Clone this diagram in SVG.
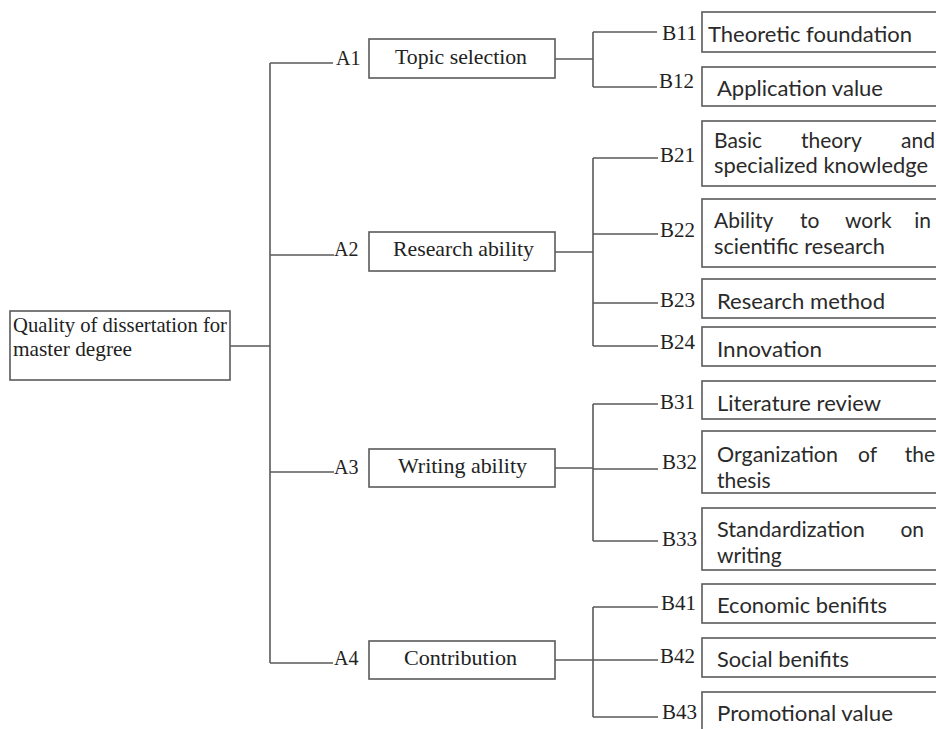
<svg xmlns="http://www.w3.org/2000/svg" width="936" height="729" viewBox="0 0 936 729">
<style>
.box{fill:#fff;stroke:#5a5a5a;stroke-width:1.6}
.ln{fill:none;stroke:#5a5a5a;stroke-width:1.6}
.s{font-family:"Liberation Serif","Times New Roman",serif;fill:#222}
.a{font-size:21px}
.lb{font-size:20px}
.c{font-family:Lato,"Open Sans","Liberation Sans",sans-serif;font-size:21px;fill:#2a2a2a}
.e{text-anchor:end}
</style>
<rect width="936" height="729" fill="#fff"/>
<g id="connectors">
<path class="ln" d="M230,346H270M270,63V663M270,63H333M270,255H334M270,472H334M270,663H333"/>
<path class="ln" d="M555,59H593M593,32V87M593,32H657M593,87H657"/>
<path class="ln" d="M555,252H593M593,158V346M593,158H658M593,234H658M593,303H658M593,346H658"/>
<path class="ln" d="M555,468H593M593,404V541M593,404H658M593,469H658M593,541H658"/>
<path class="ln" d="M555,660H593M593,607V717M593,607H658M593,660H658M593,717H658"/>
</g>
<g id="root">
<rect class="box" x="10" y="311" width="220" height="69"/>
<text class="s" x="13" y="332" font-size="21" textLength="214" lengthAdjust="spacingAndGlyphs">Quality of dissertation for</text>
<text class="s" x="13" y="356" font-size="21" textLength="119" lengthAdjust="spacingAndGlyphs">master degree</text>
</g>
<g id="A1">
<text class="s lb" x="336" y="65">A1</text>
<rect class="box" x="369" y="39" width="186" height="39"/>
<text class="s a" x="395" y="64" textLength="132" lengthAdjust="spacingAndGlyphs">Topic selection</text>
</g>
<g id="A2">
<text class="s lb" x="334" y="256">A2</text>
<rect class="box" x="369" y="232" width="186" height="39"/>
<text class="s a" x="393" y="256" textLength="141" lengthAdjust="spacingAndGlyphs">Research ability</text>
</g>
<g id="A3">
<text class="s lb" x="334" y="474">A3</text>
<rect class="box" x="369" y="449" width="186" height="38"/>
<text class="s a" x="398" y="473" textLength="129" lengthAdjust="spacingAndGlyphs">Writing ability</text>
</g>
<g id="A4">
<text class="s lb" x="334" y="665">A4</text>
<rect class="box" x="369" y="641" width="186" height="38"/>
<text class="s a" x="404" y="665" textLength="113" lengthAdjust="spacingAndGlyphs">Contribution</text>
</g>
<g id="B11">
<text class="s lb" x="662" y="40" textLength="35" lengthAdjust="spacingAndGlyphs">B11</text>
<rect class="box" x="702" y="12" width="240" height="40"/>
<text class="c" x="708" y="42" textLength="204" lengthAdjust="spacingAndGlyphs">Theoretic foundation</text>
</g>
<g id="B12">
<text class="s lb" x="659" y="88" textLength="35" lengthAdjust="spacingAndGlyphs">B12</text>
<rect class="box" x="702" y="67" width="240" height="39"/>
<text class="c" x="717" y="96" textLength="166" lengthAdjust="spacingAndGlyphs">Application value</text>
</g>
<g id="B21">
<text class="s lb" x="660" y="162" textLength="35" lengthAdjust="spacingAndGlyphs">B21</text>
<rect class="box" x="702" y="121" width="240" height="65"/>
<text class="c" x="714" y="148">Basic</text>
<text class="c" x="801" y="148">theory</text>
<text class="c e" x="935" y="148">and</text>
<text class="c" x="714" y="173" textLength="214" lengthAdjust="spacingAndGlyphs">specialized knowledge</text>
</g>
<g id="B22">
<text class="s lb" x="660" y="237" textLength="35" lengthAdjust="spacingAndGlyphs">B22</text>
<rect class="box" x="702" y="199" width="240" height="68"/>
<text class="c" x="714" y="228">Ability</text>
<text class="c" x="800" y="228">to</text>
<text class="c" x="845" y="228">work</text>
<text class="c e" x="931" y="228">in</text>
<text class="c" x="714" y="254" textLength="171" lengthAdjust="spacingAndGlyphs">scientific research</text>
</g>
<g id="B23">
<text class="s lb" x="660" y="307" textLength="35" lengthAdjust="spacingAndGlyphs">B23</text>
<rect class="box" x="702" y="279" width="240" height="39"/>
<text class="c" x="717" y="309" textLength="168" lengthAdjust="spacingAndGlyphs">Research method</text>
</g>
<g id="B24">
<text class="s lb" x="660" y="349" textLength="35" lengthAdjust="spacingAndGlyphs">B24</text>
<rect class="box" x="702" y="327" width="240" height="39"/>
<text class="c" x="717" y="357" textLength="105" lengthAdjust="spacingAndGlyphs">Innovation</text>
</g>
<g id="B31">
<text class="s lb" x="660" y="409" textLength="35" lengthAdjust="spacingAndGlyphs">B31</text>
<rect class="box" x="702" y="381" width="240" height="38"/>
<text class="c" x="717" y="411" textLength="164" lengthAdjust="spacingAndGlyphs">Literature review</text>
</g>
<g id="B32">
<text class="s lb" x="662" y="469" textLength="35" lengthAdjust="spacingAndGlyphs">B32</text>
<rect class="box" x="702" y="431" width="240" height="62"/>
<text class="c" x="717" y="462" textLength="121" lengthAdjust="spacingAndGlyphs">Organization</text>
<text class="c" x="858" y="462">of</text>
<text class="c e" x="935" y="462">the</text>
<text class="c" x="717" y="488">thesis</text>
</g>
<g id="B33">
<text class="s lb" x="662" y="546" textLength="35" lengthAdjust="spacingAndGlyphs">B33</text>
<rect class="box" x="702" y="508" width="240" height="62"/>
<text class="c" x="717" y="537" textLength="148" lengthAdjust="spacingAndGlyphs">Standardization</text>
<text class="c e" x="924" y="537">on</text>
<text class="c" x="717" y="563">writing</text>
</g>
<g id="B41">
<text class="s lb" x="661" y="610" textLength="35" lengthAdjust="spacingAndGlyphs">B41</text>
<rect class="box" x="702" y="584" width="240" height="39"/>
<text class="c" x="717" y="613" textLength="170" lengthAdjust="spacingAndGlyphs">Economic benifits</text>
</g>
<g id="B42">
<text class="s lb" x="660" y="663" textLength="35" lengthAdjust="spacingAndGlyphs">B42</text>
<rect class="box" x="702" y="638" width="240" height="39"/>
<text class="c" x="717" y="667" textLength="132" lengthAdjust="spacingAndGlyphs">Social benifits</text>
</g>
<g id="B43">
<text class="s lb" x="662" y="719" textLength="35" lengthAdjust="spacingAndGlyphs">B43</text>
<rect class="box" x="702" y="692" width="240" height="60"/>
<text class="c" x="717" y="721" textLength="176" lengthAdjust="spacingAndGlyphs">Promotional value</text>
</g>
</svg>
